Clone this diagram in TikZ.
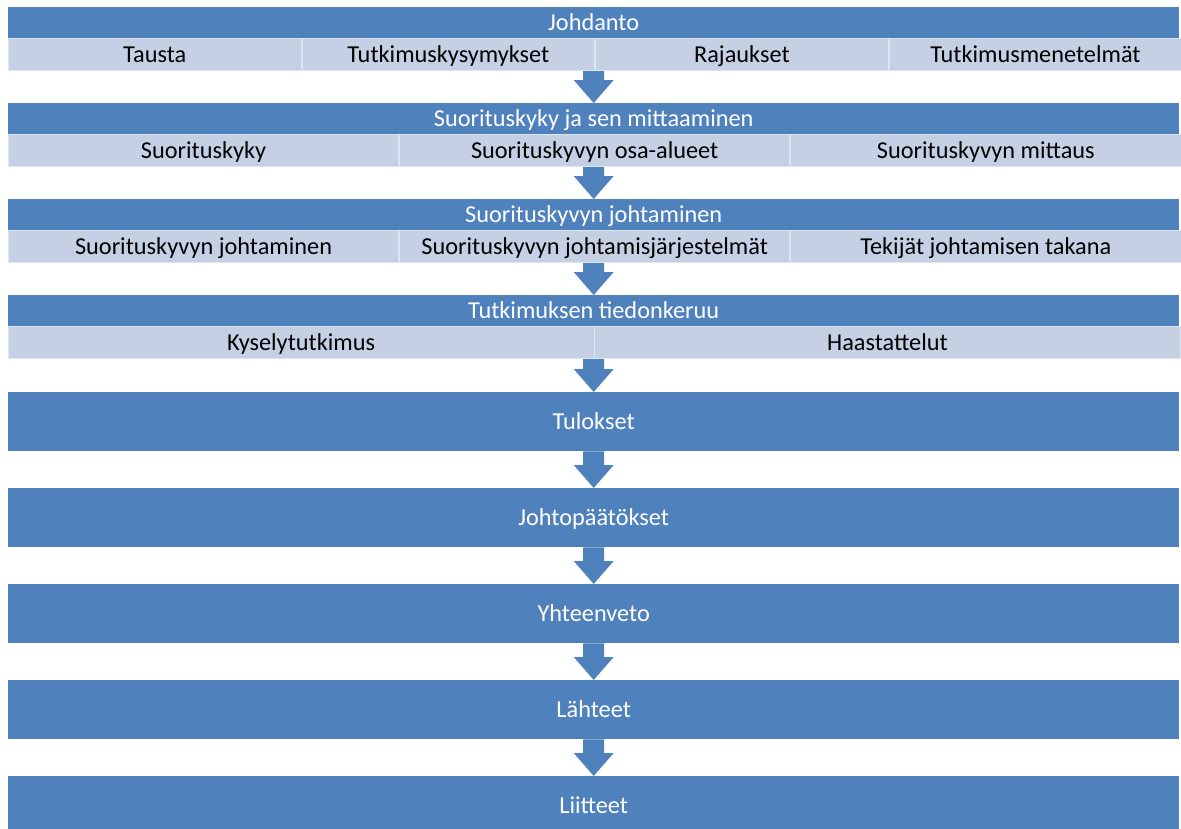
\documentclass[tikz,border=0pt]{standalone}
\usepackage{fontspec}
\setmainfont{Carlito}
\usetikzlibrary{positioning,calc}

\definecolor{hdrblue}{RGB}{79,129,189}
\definecolor{cellblue}{RGB}{197,208,228}

\tikzset{
  boxtext/.style={font=\fontsize{24.3}{29}\selectfont, text height=15.6pt, text depth=0pt},
  hdr/.style={boxtext, fill=hdrblue, text=white, inner sep=0pt, minimum width=1171pt, minimum height=31pt, anchor=north west},
  cell/.style={boxtext, fill=cellblue, draw=white!45!cellblue, line width=0.8pt, text=black, inner sep=0pt, minimum height=32pt},
  cellfour/.style={cell, minimum width=292.75pt},
  cellthree/.style={cell, minimum width=390.33pt},
  celltwo/.style={cell, minimum width=585.5pt},
  bigbox/.style={boxtext, fill=hdrblue, text=white, inner sep=0pt, minimum width=1171pt, minimum height=59pt, anchor=north west}
}

% block arrow from a point down to the top of a node
\newcommand{\flowarrow}[2]{%
  \fill[hdrblue] ($(#1)+(-10.5,0)$) -- ($(#2.north)+(-10.5,-23)$) -- ($(#2.north)+(-20,-23)$)
    -- (#2.north) -- ($(#2.north)+(20,-23)$) -- ($(#2.north)+(10.5,-23)$) -- ($(#1)+(10.5,0)$) -- cycle;}

\begin{document}
\begin{tikzpicture}[x=1pt,y=-1pt]
  \useasboundingbox (0,0) rectangle (1181,828);

  % Johdanto
  \node[hdr] (johdanto) at (8,7) {Johdanto};
  \node[cellfour, anchor=north west] (tausta) at (johdanto.south west) {Tausta};
  \node[cellfour, right=0pt of tausta] (kysymykset) {Tutkimuskysymykset};
  \node[cellfour, right=0pt of kysymykset] (rajaukset) {Rajaukset};
  \node[cellfour, right=0pt of rajaukset] (menetelmat) {Tutkimusmenetelmät};

  % Suorituskyky ja sen mittaaminen
  \node[hdr] (mittaaminen) at (8,103) {Suorituskyky ja sen mittaaminen};
  \node[cellthree, anchor=north west] (suorituskyky) at (mittaaminen.south west) {Suorituskyky};
  \node[cellthree, right=0pt of suorituskyky] (osaalueet) {Suorituskyvyn osa-alueet};
  \node[cellthree, right=0pt of osaalueet] (mittaus) {Suorituskyvyn mittaus};

  % Suorituskyvyn johtaminen
  \node[hdr] (johtaminen) at (8,199) {Suorituskyvyn johtaminen};
  \node[cellthree, anchor=north west] (johtsub) at (johtaminen.south west) {Suorituskyvyn johtaminen};
  \node[cellthree, right=0pt of johtsub] (jarjestelmat) {Suorituskyvyn johtamisjärjestelmät};
  \node[cellthree, right=0pt of jarjestelmat] (tekijat) {Tekijät johtamisen takana};

  % Tutkimuksen tiedonkeruu
  \node[hdr] (tiedonkeruu) at (8,295) {Tutkimuksen tiedonkeruu};
  \node[celltwo, anchor=north west] (kysely) at (tiedonkeruu.south west) {Kyselytutkimus};
  \node[celltwo, right=0pt of kysely] (haastattelut) {Haastattelut};

  % Loput luvut
  \node[bigbox] (tulokset) at (8,392) {Tulokset};
  \node[bigbox] (johtopaatokset) at (8,488) {Johtopäätökset};
  \node[bigbox] (yhteenveto) at (8,584) {Yhteenveto};
  \node[bigbox] (lahteet) at (8,680) {Lähteet};
  \node[bigbox] (liitteet) at (8,776) {Liitteet};

  % Nuolet
  \coordinate (out1) at (johdanto.center |- tausta.south);
  \coordinate (out2) at (mittaaminen.center |- osaalueet.south);
  \coordinate (out3) at (johtaminen.center |- jarjestelmat.south);
  \coordinate (out4) at (tiedonkeruu.center |- kysely.south);
  \flowarrow{out1}{mittaaminen}
  \flowarrow{out2}{johtaminen}
  \flowarrow{out3}{tiedonkeruu}
  \flowarrow{out4}{tulokset}
  \flowarrow{tulokset.south}{johtopaatokset}
  \flowarrow{johtopaatokset.south}{yhteenveto}
  \flowarrow{yhteenveto.south}{lahteet}
  \flowarrow{lahteet.south}{liitteet}
\end{tikzpicture}
\end{document}
